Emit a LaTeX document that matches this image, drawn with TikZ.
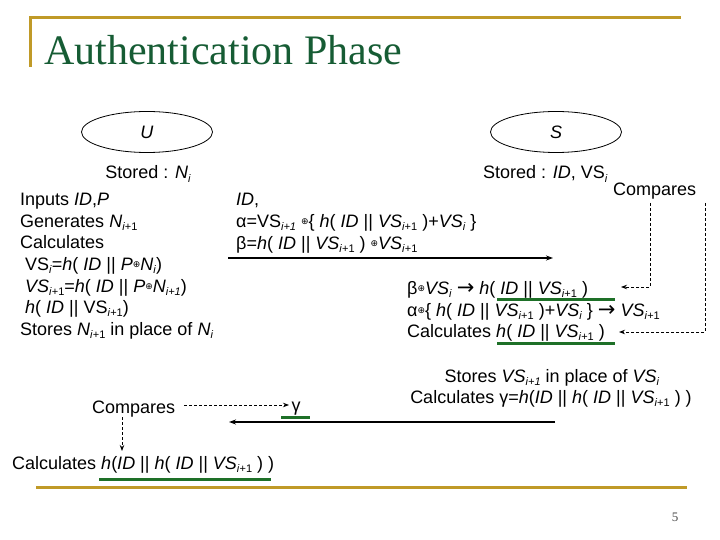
\documentclass[tikz,border=0pt]{standalone}
\usepackage{fontspec}
\setmainfont{Liberation Sans}
\newfontfamily\tms{Liberation Serif}
\newfontfamily\dvs{DejaVu Sans}
\usetikzlibrary{arrows.meta,shapes.geometric}
\definecolor{gold}{RGB}{192,154,40}
\definecolor{ttl}{RGB}{22,92,52}
\definecolor{grn}{RGB}{30,112,40}
\newcommand{\sbs}[1]{\raisebox{-0.22em}{\fontsize{11}{11}\selectfont #1}}
\newcommand{\xo}{\raisebox{0.12em}{\dvs\fontsize{9}{9}\selectfont ⊕}}
\newcommand{\arr}{\raisebox{-0.05em}{\dvs\fontsize{21}{21}\selectfont →}}
\begin{document}
\begin{tikzpicture}[x=1pt,y=-1pt,
  txt/.style={inner sep=0pt,font=\fontsize{18}{21}\selectfont,anchor=base west},
  ctxt/.style={txt,anchor=base},
  party/.style={draw,line width=0.8pt,ellipse,minimum width=131pt,minimum height=41pt,inner sep=0pt,font=\fontsize{18}{21}\selectfont},
  msg/.style={line width=1.4pt,-{Stealth[length=7pt,width=5pt]}},
  dsh/.style={line width=0.9pt,dash pattern=on 3pt off 2pt,-{Stealth[length=6pt,width=4.5pt]}},
  goldline/.style={gold,line width=3pt},
  ul/.style={grn,line width=3pt}]
\useasboundingbox (0,0) rectangle (720,540);
% frame lines
\draw[goldline] (29,18) -- (681,18);
\draw[goldline] (30,16.5) -- (30,67);
\draw[goldline] (36,487) -- (687,487);
\node[inner sep=0pt,anchor=base west,font=\tms\fontsize{42}{42}\selectfont,text=ttl] (title) at (44,65) {Authentication Phase};
% parties
\node[party] (U) at (147,132) {\textit{U}};
\node[party] (S) at (556,132) {\textit{S}};
\node[ctxt] (us) at (148,179) {Stored : \textit{N}\sbs{\textit{i}}};
\node[txt] (ss) at (483,179) {Stored : \textit{ID}, VS\sbs{\textit{i}}};
\node[txt] (sc) at (613,196) {Compares};
% user computations
\node[txt] (u1) at (20,206) {Inputs \textit{ID},\textit{P}};
\node[txt] (u2) at (20,227) {Generates \textit{N}\sbs{\textit{i}+1}};
\node[txt] (u3) at (20,248) {Calculates};
\node[txt] (u4) at (25,270) {VS\sbs{\textit{i}}=\textit{h}( \textit{ID} || \textit{P}\xo\textit{N}\sbs{\textit{i}})};
\node[txt] (u5) at (25,292) {\textit{VS}\sbs{\textit{i}+1}=\textit{h}( \textit{ID} || \textit{P}\xo\textit{N}\sbs{\textit{i+1}})};
\node[txt] (u6) at (25,313) {\textit{h}( \textit{ID} || VS\sbs{\textit{i}+1})};
\node[txt] (u7) at (20,335) {Stores \textit{N}\sbs{\textit{i}+1} in place of \textit{N}\sbs{\textit{i}}};
% message 1
\node[txt] (m1) at (236,206) {\textit{ID},};
\node[txt] (m2) at (236,227) {α=VS\sbs{\textit{i+1}} \xo\{ \textit{h}( \textit{ID} || \textit{VS}\sbs{\textit{i}+1} )+\textit{VS}\sbs{\textit{i}} \}};
\node[txt] (m3) at (236,249) {β=\textit{h}( \textit{ID} || \textit{VS}\sbs{\textit{i}+1} ) \xo\textit{VS}\sbs{\textit{i}+1}};
\coordinate (a1s) at (228,258);
\coordinate (a1e) at (553,258);
\draw[msg] (a1s) -- (a1e);
% server computations
\node[txt] (s1) at (407,294) {β\xo\textit{VS}\sbs{\textit{i}} \arr\ \textit{h}( \textit{ID} || \textit{VS}\sbs{\textit{i}+1} )};
\node[txt] (s2) at (407,316) {α\xo\{ \textit{h}( \textit{ID} || \textit{VS}\sbs{\textit{i}+1} )+\textit{VS}\sbs{\textit{i}} \} \arr\ \textit{VS}\sbs{\textit{i}+1}};
\node[txt] (s3) at (407,337) {Calculates \textit{h}( \textit{ID} || \textit{VS}\sbs{\textit{i}+1} )};
\draw[ul] (497,299) -- (615,299);
\draw[ul] (497,343) -- (615,343);
\coordinate (d1a) at (650,203);
\coordinate (d1b) at (621,287);
\coordinate (d2a) at (705,203);
\coordinate (d2b) at (619,332);
\draw[dsh] (d1a) |- (d1b);
\draw[dsh] (d2a) |- (d2b);
% server final
\node[ctxt] (s4) at (552,382) {Stores \textit{VS}\sbs{\textit{i+1}} in place of \textit{VS}\sbs{\textit{i}}};
\node[ctxt] (s5) at (551,403) {Calculates γ=\textit{h}(\textit{ID} || \textit{h}( \textit{ID} || \textit{VS}\sbs{\textit{i}+1} ) )};
\coordinate (a2s) at (555,422);
\coordinate (a2e) at (229,422);
\draw[msg] (a2s) -- (a2e);
% user final
\node[txt] (uc) at (92,413) {Compares};
\node[ctxt] (gam) at (296,411) {γ};
\draw[ul] (281,417) -- (310,417);
\coordinate (d3a) at (184,405);
\coordinate (d3b) at (289,405);
\draw[dsh] (d3a) -- (d3b);
\coordinate (d4a) at (122,417);
\coordinate (d4b) at (122,451);
\draw[dsh] (d4a) -- (d4b);
\node[txt] (u8) at (12,469) {Calculates \textit{h}(\textit{ID} || \textit{h}( \textit{ID} || \textit{VS}\sbs{\textit{i}+1} ) )};
\draw[ul] (99,479) -- (271,479);
\node[ctxt,font=\tms\fontsize{13}{13}\selectfont,text=black!70] (pg) at (675,521) {5};
\end{tikzpicture}
\end{document}
